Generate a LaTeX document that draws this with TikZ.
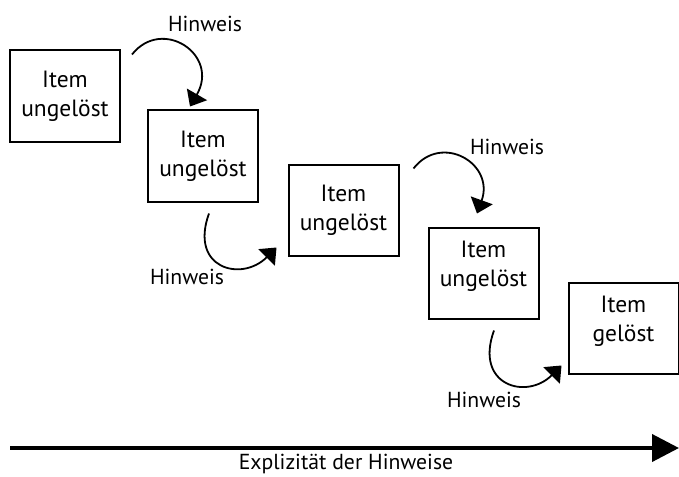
\documentclass[tikz,border=0pt]{standalone}
\usepackage{fontspec}
\setmainfont{PT Sans}
\usetikzlibrary{arrows.meta}

\begin{document}
\begin{tikzpicture}[x=1pt, y=-1pt, >={Triangle[length=14pt,width=23pt]},
    item/.style={draw, line width=2pt, minimum width=110pt, minimum height=91pt,
        inner sep=0pt, align=center, font=\fontsize{23.5}{29}\selectfont},
    itemup/.style={item, text depth=18pt},
    hint/.style={->, line width=1.8pt},
    hintlabel/.style={font=\fontsize{21.7}{26}\selectfont}]
    \useasboundingbox (0,0) rectangle (679,476);

    % Items
    \node[item] (i1) at (65,96) {Item\\ungelöst};
    \node[item] (i2) at (203,156) {Item\\ungelöst};
    \node[item] (i3) at (343.5,210) {Item\\ungelöst};
    \node[itemup] (i4) at (483.5,273) {Item\\ungelöst};
    \node[itemup] (i5) at (623.5,328) {Item\\gelöst};

    % Hints above
    \draw[hint] ([shift={(11,5)}]i1.north east) .. controls +(30,-38) and +(30,-52) .. ([shift={(-13,-3)}]i2.north);
    \node[hintlabel] (h1) at (205,24) {Hinweis};
    \draw[hint] ([shift={(14,5)}]i3.north east) .. controls +(28,-36) and +(18,-50) .. ([shift={(-6.5,-13)}]i4.north);
    \node[hintlabel] (h3) at (507,147) {Hinweis};

    % Hints below
    \draw[hint] ([shift={(6,11)}]i2.south) .. controls +(-20,55) and +(-35,35) .. ([shift={(-11,-9)}]i3.south west);
    \node[hintlabel] (h2) at (187,277) {Hinweis};
    \draw[hint] ([shift={(10.5,11)}]i4.south) .. controls +(-20,55) and +(-35,35) .. ([shift={(-6,-9)}]i5.south west);
    \node[hintlabel] (h4) at (484,400) {Hinweis};

    % Axis
    \coordinate (ax0) at (10,448);
    \coordinate (ax1) at (679,448);
    \draw[line width=4pt, -{Triangle[length=27pt,width=27pt]}] (ax0) -- (ax1);
    \node[hintlabel, anchor=base] (xl) at (346,469.5) {Explizität der Hinweise};
\end{tikzpicture}
\end{document}
